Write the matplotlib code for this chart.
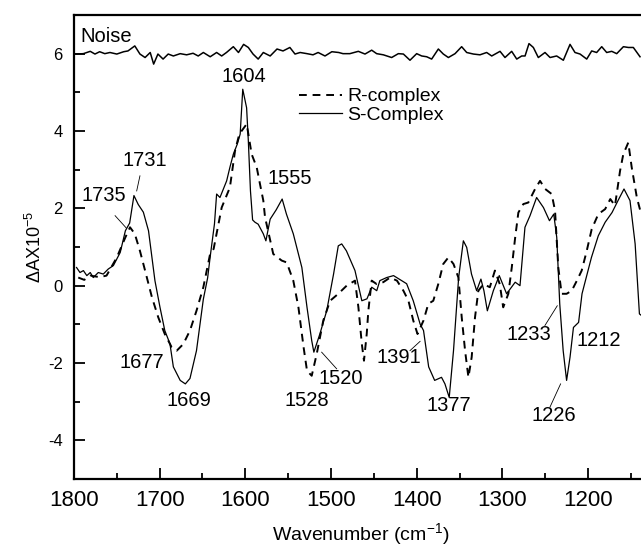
import matplotlib
matplotlib.use('Agg')
import matplotlib.pyplot as plt
from matplotlib.ticker import MultipleLocator

plt.rcParams['font.family'] = ['Liberation Sans', 'DejaVu Sans']
plt.rcParams['mathtext.default'] = 'regular'
plt.rcParams['axes.unicode_minus'] = False

# S-complex (solid line)
s_wn = [1797, 1793, 1789, 1785, 1781, 1777.5, 1771.6, 1765.8, 1760, 1754, 1746,
        1740, 1735, 1730, 1725, 1719, 1713, 1705.5, 1699.6, 1694, 1688, 1684,
        1676, 1670, 1664.6, 1657, 1649, 1644, 1641, 1636, 1633.5, 1629.6, 1621.8,
        1618, 1614, 1609.4, 1606, 1603, 1598.5, 1596.5, 1594, 1591.5, 1588.7, 1585,
        1579, 1576, 1571, 1564, 1557, 1552, 1544, 1534, 1528, 1522.5, 1520,
        1513, 1505, 1497, 1491.5, 1487.5, 1482, 1472, 1464, 1458, 1452.5, 1446.6,
        1443, 1435, 1427, 1417.5, 1411.7, 1404, 1396, 1392, 1386, 1379, 1371,
        1367, 1362, 1357, 1351, 1345.5, 1341.6, 1336, 1330, 1325, 1321.5, 1317.5,
        1310.5, 1303.6, 1295, 1285, 1279.4, 1273.6, 1267.7, 1260, 1252, 1245,
        1240, 1236.5, 1233, 1229, 1225, 1221, 1217, 1211, 1207, 1203.5, 1196,
        1188, 1180, 1172, 1165, 1158, 1151, 1145, 1140, 1136]
s_abs = [0.47, 0.34, 0.39, 0.26, 0.34, 0.21, 0.34, 0.30, 0.43, 0.52, 0.86,
         1.42, 1.62, 2.33, 2.10, 1.90, 1.42, 0.13, -0.56, -1.16, -1.50, -2.10,
         -2.45, -2.54, -2.40, -1.68, -0.35, 0.20, 0.75, 1.60, 2.37, 2.28, 2.71,
         3.06, 3.40, 3.66, 3.92, 5.08, 4.60, 3.75, 2.45, 1.70, 1.64, 1.59,
         1.34, 1.16, 1.72, 1.96, 2.24, 1.85, 1.34, 0.47, -0.56, -1.42, -1.72,
         -1.25, -0.65, 0.30, 1.03, 1.08, 0.90, 0.39, -0.39, -0.34, -0.04, -0.13,
         0.13, 0.21, 0.26, 0.13, 0.05, -0.39, -0.99, -1.16, -2.10, -2.45, -2.37,
         -2.54, -2.89, -1.68, 0.21, 1.16, 0.99, 0.30, -0.13, 0.17, -0.13, -0.65,
         -0.13, 0.26, -0.21, 0.09, 0.00, 1.51, 1.81, 2.28, 2.02, 1.68,
         1.85, 1.25, -0.47, -1.68, -2.45, -1.85, -1.08, -0.95, -0.21, 0.09, 0.73,
         1.29, 1.64, 1.89, 2.20, 2.50, 2.20, 1.08, -0.73, -0.80]

# R-complex (dashed line)
r_wn = [1795, 1788, 1781, 1770, 1762, 1750, 1740, 1734.6, 1729, 1723, 1717,
        1709, 1701.6, 1694, 1686, 1680, 1672.4, 1664.6, 1657, 1649, 1641, 1637,
        1627.6, 1618, 1612, 1607, 1598.4, 1592.6, 1586.7, 1582.9, 1579, 1577,
        1567.4, 1557.6, 1551.7, 1544, 1538, 1532, 1528, 1522.5, 1516.7, 1509,
        1501, 1491.5, 1481.7, 1472, 1468, 1464, 1461.5, 1458.3, 1456.4, 1452.5,
        1446.6, 1439, 1431, 1423, 1415.5, 1409.6, 1404, 1399, 1392, 1386.4,
        1380.6, 1374.8, 1369, 1363, 1357, 1351.3, 1347.4, 1343.5, 1339.6, 1335.8,
        1331.9, 1328, 1322, 1314.6, 1308.7, 1303, 1299, 1293, 1289, 1285, 1281.3,
        1275.5, 1269.7, 1261.8, 1256, 1250, 1242.4, 1238.5, 1234.7, 1230.8, 1225,
        1219, 1213, 1207.4, 1201.5, 1195.7, 1188, 1180, 1174, 1168.5, 1162.6,
        1158.8, 1153, 1149, 1143, 1139, 1135]
r_abs = [0.21, 0.15, 0.26, 0.22, 0.26, 0.73, 1.25, 1.51, 1.34, 0.90, 0.39,
         -0.30, -0.82, -1.25, -1.59, -1.68, -1.51, -1.16, -0.65, -0.04, 0.83, 0.95,
         2.02, 2.54, 3.49, 3.92, 4.18, 3.40, 3.06, 2.63, 2.20, 1.77,
         0.82, 0.65, 0.60, 0.13, -0.56, -1.59, -2.20, -2.33, -1.77, -0.90,
         -0.39, -0.21, 0.00, 0.13, -0.56, -1.51, -1.94, -1.25, -0.65, 0.13,
         0.04, 0.09, 0.21, 0.13, -0.13, -0.39, -0.90, -1.25, -0.90, -0.47,
         -0.39, 0.04, 0.56, 0.73, 0.56, 0.21, -0.82, -1.68, -2.37, -1.85,
         -0.82, -0.13, 0.04, -0.04, 0.39, 0.04, -0.56, -0.21, 0.47, 1.25, 1.89,
         2.11, 2.15, 2.50, 2.71, 2.50, 2.37, 1.94, 0.47, -0.21, -0.21,
         -0.13, 0.13, 0.39, 0.90, 1.46, 1.85, 1.98, 2.24, 2.07, 2.97,
         3.40, 3.70, 3.06, 2.28, 1.94, 1.80]

# noise trace near the top
n_wn = [1800, 1797, 1789, 1781, 1775.5, 1770, 1764, 1758, 1750, 1742, 1737, 1729,
        1723, 1717, 1711, 1707, 1702, 1696, 1690, 1684, 1676, 1668.5, 1661,
        1655, 1649, 1641, 1633.5, 1627.6, 1622, 1614, 1608, 1602, 1596.5, 1591,
        1585, 1579, 1571, 1563, 1556, 1548, 1542, 1536, 1528, 1521, 1515, 1507,
        1499, 1491, 1486, 1478, 1468.1, 1460.3, 1452.5, 1446.7, 1438.9, 1429.2,
        1421.4, 1415.5, 1407.8, 1400, 1394.1, 1388.3, 1382.5, 1374.7, 1368.9,
        1363, 1355.2, 1347.5, 1341.6, 1333.8, 1326.1, 1318.3, 1312.4, 1302.7,
        1296.9, 1289.1, 1283.2, 1277.4, 1273.5, 1268.9, 1263.8, 1258, 1250.2,
        1244.3, 1236.6, 1228.8, 1221, 1215.2, 1209.3, 1201.5, 1195.7, 1189.9,
        1184, 1178.2, 1172.3, 1166.5, 1158.7, 1152.9, 1147.1, 1139.3]
n_abs = [6.00, 5.99, 6.00, 6.06, 5.99, 6.05, 6.00, 6.03, 5.99, 6.05, 6.07, 6.20,
         5.99, 5.90, 6.03, 5.73, 5.99, 5.86, 5.99, 5.94, 6.00, 5.97, 6.01,
         5.94, 6.03, 5.92, 6.03, 5.94, 6.03, 6.18, 6.03, 6.24, 6.16, 5.99,
         5.86, 6.03, 5.94, 6.12, 6.07, 6.16, 5.99, 6.03, 6.00, 5.97, 6.03, 5.94,
         6.05, 6.03, 6.00, 6.00, 6.06, 5.99, 6.09, 6.00, 5.97, 5.90,
         6.00, 5.99, 5.83, 6.00, 5.94, 5.92, 5.86, 6.12, 5.99,
         5.90, 6.00, 6.18, 6.03, 5.99, 5.97, 6.03, 5.94, 6.06,
         5.90, 6.06, 5.86, 5.94, 5.94, 6.26, 6.16, 5.90, 6.03,
         5.90, 5.94, 5.83, 6.24, 6.03, 5.99, 5.86, 6.07, 6.03,
         6.18, 6.03, 6.06, 6.00, 6.18, 6.16, 6.16, 5.92]

# peak labels: (text, text x, text y, leader start, leader end)
peak_labels = [
    ('1735', 1765.6, 2.33, (1752, 1.81), (1739.3, 1.50)),
    ('1731', 1717.7, 3.23, (1723, 2.84), (1726.8, 2.45)),
    ('1604', 1602, 5.41, None, None),
    ('1555', 1548.5, 2.78, None, None),
    ('1677', 1721, -1.98, None, None),
    ('1669', 1666.3, -2.96, None, None),
    ('1528', 1528.6, -2.96, None, None),
    ('1520', 1489, -2.39, (1510.9, -1.72), (1493.4, -2.15)),
    ('1391', 1421.2, -1.87, (1407.8, -1.68), (1396, -1.44)),
    ('1377', 1362.3, -3.10, None, None),
    ('1233', 1268.9, -1.25, (1250.3, -1.03), (1235.9, -0.52)),
    ('1212', 1187.8, -1.42, None, None),
    ('1226', 1239.7, -3.37, (1244.4, -3.14), (1232, -2.54)),
]

fig = plt.figure(figsize=(6.41, 5.47), dpi=100)
ax = fig.add_axes([0.1154, 0.1243, 0.8955, 0.8483])

ax.plot(r_wn, r_abs, color='black', lw=1.4, dashes=(4, 3), label='R-complex')
ax.plot(s_wn, s_abs, color='black', lw=0.9, label='S-Complex')
ax.plot(n_wn, n_abs, color='black', lw=1.1)

ax.text(1793, 6.45, 'Noise', fontsize=14.5, ha='left', va='center')

for txt, tx, ty, p0, p1 in peak_labels:
    ax.text(tx, ty, txt, fontsize=14.5, ha='center', va='center')
    if p0 is not None:
        ax.plot([p0[0], p1[0]], [p0[1], p1[1]], color='black', lw=0.6)

ax.set_xlim(1800, 1130)
ax.set_ylim(-5, 7)
ax.xaxis.set_major_locator(MultipleLocator(100))
ax.xaxis.set_minor_locator(MultipleLocator(50))
ax.yaxis.set_major_locator(MultipleLocator(2))
ax.yaxis.set_minor_locator(MultipleLocator(1))

ax.tick_params(which='both', direction='in', top=False, right=False, width=1.3)
ax.tick_params(which='major', length=8)
ax.tick_params(which='minor', length=4.5)
ax.tick_params(axis='x', labelsize=16, pad=8)
ax.tick_params(axis='y', labelsize=12, pad=8)
for sp in ax.spines.values():
    sp.set_linewidth(1.6)
ax.spines['right'].set_visible(False)

ax.set_xlabel('Wavenumber (cm$^{-1}$)', fontsize=14, labelpad=7)
ax.set_ylabel('ΔAX10$^{-5}$', fontsize=13, labelpad=2)

ax.legend(loc='upper left', bbox_to_anchor=(0.392, 0.843), frameon=False,
          fontsize=14, handlelength=2.2, handletextpad=0.3,
          labelspacing=0.05, borderpad=0, borderaxespad=0)

fig.savefig('out.png', dpi=100)
